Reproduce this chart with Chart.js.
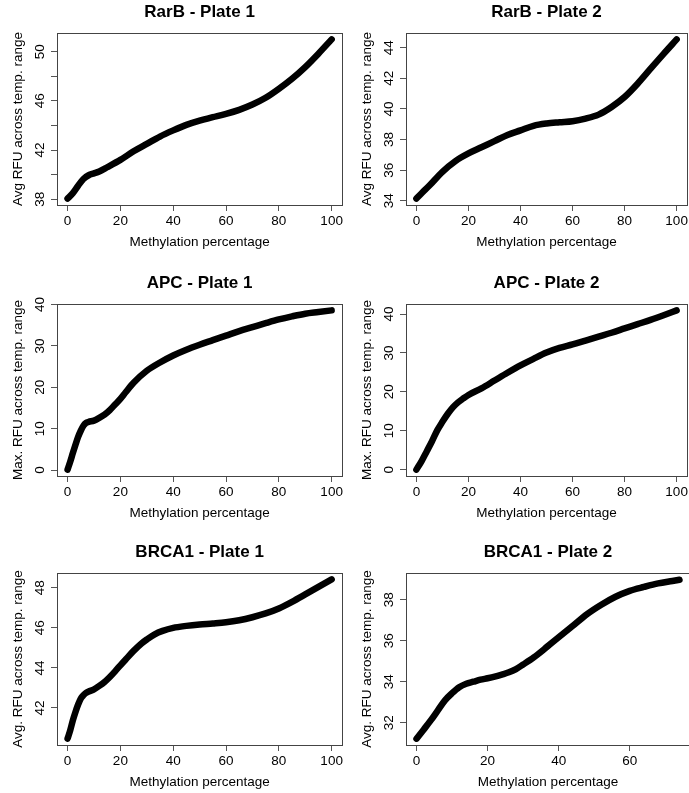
<!DOCTYPE html>
<html>
<head>
<meta charset="utf-8">
<script src="https://cdn.jsdelivr.net/npm/chart.js@4.4.0/dist/chart.umd.min.js"></script>
<style>
html, body { margin: 0; padding: 0; background: #fff; overflow: hidden; }
#wrap { position: relative; width: 689px; height: 793px; overflow: hidden; }
canvas { position: absolute; }
</style>
</head>
<body>
<div id="wrap">
  <canvas id="c1" width="345" height="253" style="left:0;top:0"></canvas>
  <canvas id="c2" width="346" height="253" style="left:344px;top:0"></canvas>
  <canvas id="c3" width="345" height="253" style="left:0;top:271px"></canvas>
  <canvas id="c4" width="346" height="253" style="left:344px;top:271px"></canvas>
  <canvas id="c5" width="345" height="253" style="left:0;top:540px"></canvas>
  <canvas id="c6" width="346" height="253" style="left:344px;top:540px"></canvas>
</div>
<script>
// methylation percentage (x) and fitted RFU (y)
const xRarB1 = [0, 2, 4, 6, 8, 10, 12, 15, 20, 25, 30, 35, 40, 45, 50, 55, 60, 65, 70, 75, 80, 85, 90, 95, 100];
const yRarB1 = [38.05, 38.5, 39.1, 39.65, 39.95, 40.1, 40.26, 40.6, 41.2, 41.9, 42.5, 43.1, 43.6, 44.05, 44.4, 44.67, 44.94, 45.27, 45.7, 46.25, 46.98, 47.8, 48.75, 49.84, 51.0];

const xRarB2 = [0, 2, 5, 10, 15, 20, 25, 30, 35, 40, 45, 50, 55, 60, 65, 70, 75, 80, 85, 90, 95, 100];
const yRarB2 = [34.15, 34.5, 35.0, 35.9, 36.6, 37.1, 37.5, 37.9, 38.3, 38.6, 38.9, 39.05, 39.13, 39.2, 39.37, 39.63, 40.13, 40.78, 41.65, 42.63, 43.6, 44.54];

const xAPC1 = [0, 1, 2, 3, 4, 5, 6, 7, 8, 10, 12, 14, 16, 18, 20, 22, 25, 30, 35, 40, 45, 50, 55, 60, 65, 70, 75, 80, 85, 90, 95, 100];
const yAPC1 = [0.1, 2.0, 4.1, 6.1, 8.0, 9.5, 10.7, 11.4, 11.65, 11.95, 12.6, 13.4, 14.5, 15.85, 17.2, 18.8, 21.1, 24.0, 26.0, 27.7, 29.1, 30.3, 31.4, 32.5, 33.6, 34.55, 35.5, 36.4, 37.15, 37.8, 38.2, 38.6];

const xAPC2 = [0, 2, 4, 6, 8, 10, 12, 14, 16, 18, 20, 25, 30, 35, 40, 45, 50, 55, 60, 65, 70, 75, 80, 85, 90, 95, 100];
const yAPC2 = [0, 2.2, 4.75, 7.3, 10.1, 12.3, 14.3, 16.0, 17.3, 18.3, 19.2, 20.9, 22.9, 24.9, 26.8, 28.5, 30.1, 31.3, 32.2, 33.2, 34.2, 35.2, 36.3, 37.4, 38.5, 39.7, 40.95];

const xBRCA1 = [0, 1, 2, 3, 4, 5, 6, 7, 8, 10, 12, 14, 16, 18, 20, 22, 25, 28, 30, 33, 36, 40, 45, 50, 55, 60, 65, 70, 75, 80, 85, 90, 95, 100];
const yBRCA1 = [40.47, 40.88, 41.38, 41.8, 42.17, 42.47, 42.63, 42.75, 42.82, 42.93, 43.1, 43.3, 43.55, 43.83, 44.13, 44.42, 44.85, 45.22, 45.42, 45.68, 45.85, 46.0, 46.1, 46.17, 46.22, 46.28, 46.38, 46.53, 46.72, 46.97, 47.3, 47.67, 48.05, 48.42];

const xBRCA2 = [0, 2, 4, 6, 8, 10, 12, 14, 16, 18, 20, 22, 24, 26, 28, 30, 33, 36, 40, 44, 48, 52, 56, 60, 64, 68, 72, 74];
const yBRCA2 = [31.22, 31.66, 32.11, 32.6, 33.09, 33.44, 33.73, 33.9, 34.0, 34.1, 34.17, 34.25, 34.35, 34.46, 34.62, 34.84, 35.19, 35.6, 36.17, 36.73, 37.3, 37.76, 38.15, 38.44, 38.63, 38.8, 38.92, 38.98];

// tick values and labels
const xTicks = [0, 20, 40, 60, 80, 100];
const xTicksBRCA2 = [0, 20, 40, 60];
const yTicksRarB1 = [38, 40, 42, 44, 46, 48, 50];
const yLabelsRarB1 = ['38', '', '42', '', '46', '', '50'];
const yTicksRarB2 = [34, 36, 38, 40, 42, 44];
const yTicksAPC = [0, 10, 20, 30, 40];
const yTicksBRCA1 = [42, 44, 46, 48];
const yTicksBRCA2 = [32, 34, 36, 38];

const FONT = '"Liberation Sans", Arial, sans-serif';

const frame = {
  id: 'frame',
  afterDraw(chart) {
    const { ctx, chartArea: a } = chart;
    ctx.save();
    ctx.strokeStyle = '#444';
    ctx.lineWidth = 1;
    ctx.strokeRect(Math.round(a.left) + 0.5, Math.round(a.top) + 0.5,
      Math.round(a.right - a.left), Math.round(a.bottom - a.top));
    ctx.restore();
  }
};

function makeChart(id, title, yTitle, xs, ys, xRange, yRange, xt, yt, yLabels, yWidth) {
  const ctx = document.getElementById(id).getContext('2d');
  return new Chart(ctx, {
    type: 'line',
    data: {
      datasets: [{
        data: xs.map((x, i) => ({ x: x, y: ys[i] })),
        borderColor: '#000',
        borderWidth: 6.5,
        borderCapStyle: 'round',
        borderJoinStyle: 'round',
        pointRadius: 0,
        cubicInterpolationMode: 'monotone',
        fill: false,
        clip: false
      }]
    },
    options: {
      responsive: false,
      animation: false,
      events: [],
      layout: { padding: { left: 0, right: 0, top: 0, bottom: 0 } },
      plugins: {
        legend: { display: false },
        tooltip: { enabled: false },
        title: {
          display: true,
          fullSize: false,
          text: title,
          color: '#000',
          font: { family: FONT, size: 17, weight: 'bold' },
          padding: { top: 2, bottom: 10.6 }
        }
      },
      scales: {
        x: {
          type: 'linear',
          min: xRange[0],
          max: xRange[1],
          afterFit: (s) => { s.height = 48; },
          afterBuildTicks: (s) => { s.ticks = xt.map(v => ({ value: v })); },
          grid: { drawOnChartArea: false, drawTicks: true, tickLength: 6, color: '#555' },
          border: { display: false },
          ticks: { color: '#000', font: { family: FONT, size: 13.5 }, padding: 2, maxRotation: 0 },
          title: {
            display: true, text: 'Methylation percentage', color: '#000',
            font: { family: FONT, size: 13.5 }, padding: { top: 0, bottom: 3 }
          }
        },
        y: {
          type: 'linear',
          min: yRange[0],
          max: yRange[1],
          afterFit: (s) => { s.width = yWidth; },
          afterBuildTicks: (s) => { s.ticks = yt.map(v => ({ value: v })); },
          grid: { drawOnChartArea: false, drawTicks: true, tickLength: 6, color: '#555' },
          border: { display: false },
          ticks: {
            color: '#000', font: { family: FONT, size: 13.5 }, padding: 3,
            minRotation: 90, maxRotation: 90, crossAlign: 'center',
            callback: (v, i) => yLabels ? yLabels[i] : String(v)
          },
          title: {
            display: true, text: yTitle, color: '#000',
            font: { family: FONT, size: 13.5 }, padding: { top: yWidth - 47, bottom: 0 }
          }
        }
      }
    },
    plugins: [frame]
  });
}

makeChart('c1', 'RarB - Plate 1', 'Avg RFU across temp. range', xRarB1, yRarB1,
  [-4, 104], [37.53, 51.52], xTicks, yTicksRarB1, yLabelsRarB1, 57);
makeChart('c2', 'RarB - Plate 2', 'Avg RFU across temp. range', xRarB2, yRarB2,
  [-4, 104], [33.73, 44.96], xTicks, yTicksRarB2, null, 62);
makeChart('c3', 'APC - Plate 1', 'Max. RFU across temp. range', xAPC1, yAPC1,
  [-4, 104], [-1.44, 40.14], xTicks, yTicksAPC, null, 57);
makeChart('c4', 'APC - Plate 2', 'Max. RFU across temp. range', xAPC2, yAPC2,
  [-4, 104], [-1.64, 42.59], xTicks, yTicksAPC, null, 62);
makeChart('c5', 'BRCA1 - Plate 1', 'Avg. RFU across temp. range', xBRCA1, yBRCA1,
  [-4, 104], [40.15, 48.74], xTicks, yTicksBRCA1, null, 57);
makeChart('c6', 'BRCA1 - Plate 2', 'Avg. RFU across temp. range', xBRCA2, yBRCA2,
  [-2.96, 76.96], [30.91, 39.31], xTicksBRCA2, yTicksBRCA2, null, 62);
</script>
</body>
</html>
